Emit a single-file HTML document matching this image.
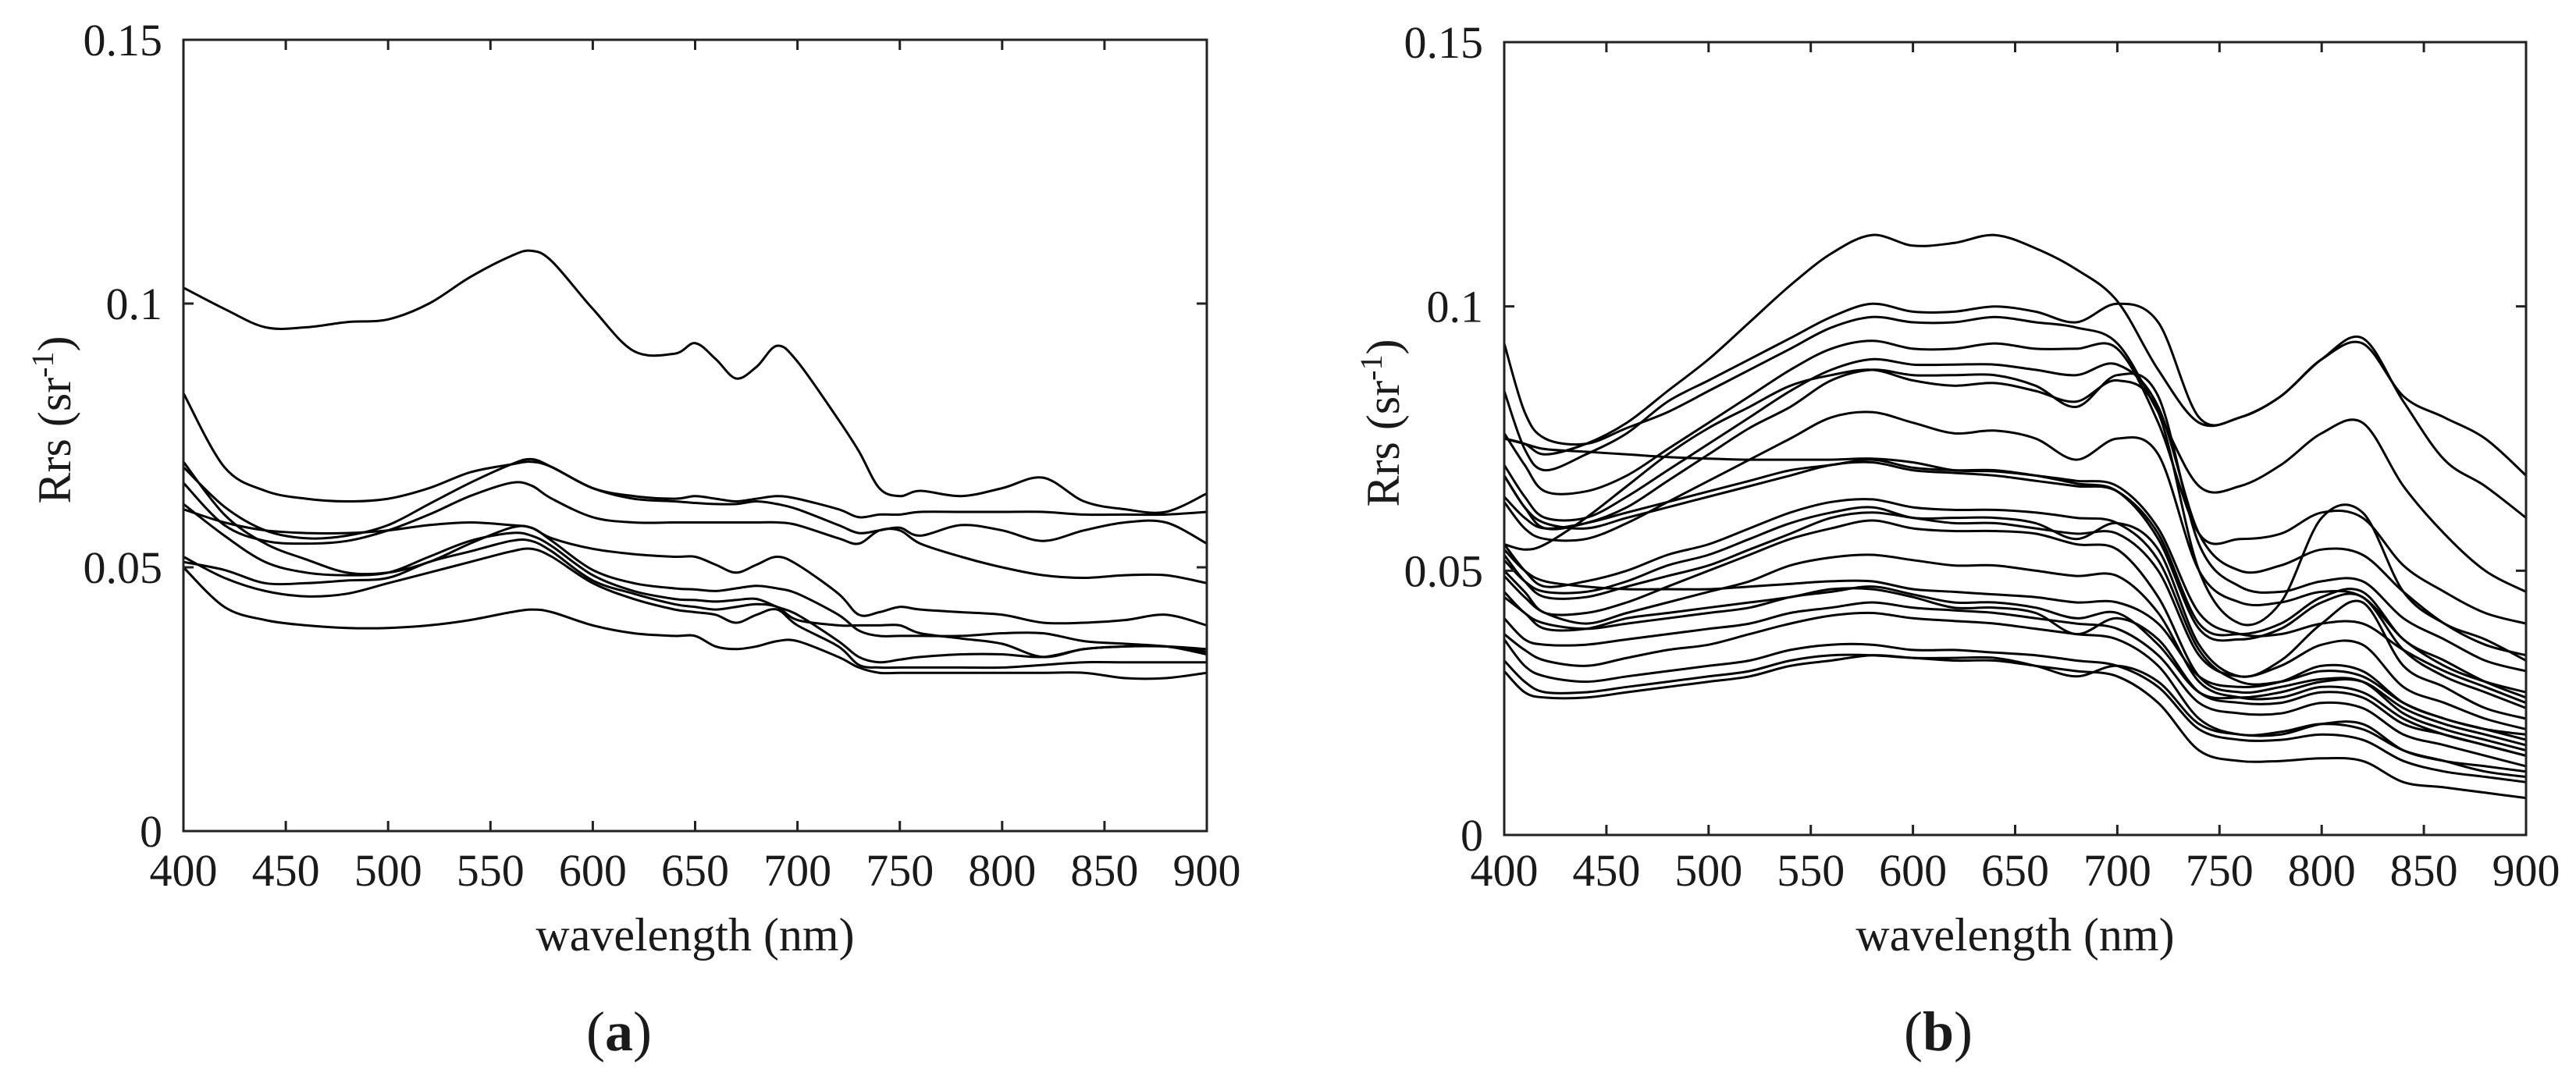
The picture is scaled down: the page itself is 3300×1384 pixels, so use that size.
<!DOCTYPE html>
<html><head><meta charset="utf-8"><title>Rrs spectra</title>
<style>
html,body{margin:0;padding:0;background:#fff;}
svg{display:block;}
text{font-family:"Liberation Serif",serif;fill:#1a1a1a;}
</style></head>
<body>
<svg id="chart" xmlns="http://www.w3.org/2000/svg" width="3300" height="1384" viewBox="0 0 3300 1384"></svg>
<script>
// ---------- data: panel (a) ----------
const wlA = [400,420,440,460,480,500,520,540,560,570,580,600,620,640,650,660,670,680,690,700,720,730,740,750,760,780,800,820,840,860,880,900];
const a1 = [0.103,0.099,0.0955,0.0955,0.0965,0.097,0.1,0.105,0.109,0.110,0.108,0.099,0.091,0.0905,0.0925,0.0895,0.0858,0.088,0.092,0.089,0.078,0.072,0.065,0.0635,0.0645,0.0635,0.065,0.067,0.0625,0.061,0.0605,0.064];
const a2 = [0.083,0.069,0.0645,0.063,0.0625,0.063,0.065,0.068,0.0695,0.070,0.069,0.065,0.0635,0.063,0.0635,0.063,0.0625,0.063,0.0635,0.063,0.061,0.0595,0.060,0.060,0.0605,0.0605,0.0605,0.0605,0.060,0.060,0.060,0.0605];
const a3 = [0.069,0.0615,0.057,0.0555,0.056,0.058,0.062,0.066,0.0695,0.0705,0.069,0.065,0.063,0.0625,0.0622,0.062,0.062,0.0625,0.062,0.061,0.058,0.0565,0.057,0.0575,0.056,0.058,0.057,0.055,0.057,0.0585,0.0585,0.0545];
const a4 = [0.066,0.058,0.055,0.0545,0.055,0.057,0.060,0.0635,0.066,0.0655,0.063,0.0595,0.0585,0.0585,0.0585,0.0585,0.0585,0.0585,0.0585,0.058,0.0555,0.0545,0.057,0.057,0.0545,0.052,0.050,0.0485,0.048,0.0485,0.0485,0.047];
const a5 = [0.061,0.0585,0.057,0.0565,0.0565,0.057,0.058,0.0585,0.058,0.0575,0.0555,0.0535,0.0525,0.052,0.052,0.0505,0.049,0.0505,0.052,0.0505,0.045,0.041,0.0415,0.0425,0.042,0.0415,0.041,0.0395,0.0395,0.040,0.041,0.039];
const a6 = [0.070,0.060,0.0545,0.0515,0.049,0.049,0.051,0.0545,0.0575,0.0575,0.055,0.0495,0.047,0.046,0.0458,0.0455,0.046,0.0465,0.046,0.045,0.041,0.038,0.037,0.037,0.037,0.037,0.0375,0.0375,0.036,0.0355,0.035,0.034];
const a7 = [0.062,0.056,0.051,0.049,0.0485,0.049,0.052,0.055,0.0565,0.056,0.054,0.0485,0.0455,0.044,0.0438,0.0435,0.0438,0.044,0.0425,0.041,0.036,0.033,0.032,0.0325,0.033,0.0335,0.0335,0.033,0.0345,0.035,0.035,0.0335];
const a8 = [0.051,0.0495,0.047,0.047,0.0475,0.048,0.051,0.053,0.055,0.055,0.053,0.0475,0.045,0.043,0.0425,0.042,0.0425,0.043,0.0425,0.040,0.039,0.039,0.039,0.039,0.0375,0.0365,0.0355,0.033,0.0345,0.035,0.035,0.0345];
const a9 = [0.052,0.048,0.0455,0.0445,0.045,0.047,0.049,0.051,0.053,0.0535,0.052,0.047,0.044,0.042,0.0415,0.041,0.0395,0.041,0.042,0.039,0.035,0.0315,0.031,0.031,0.031,0.031,0.031,0.0315,0.032,0.032,0.032,0.032];
const a10 = [0.050,0.0425,0.040,0.039,0.0385,0.0385,0.039,0.040,0.0415,0.042,0.0415,0.039,0.0375,0.037,0.037,0.035,0.0345,0.035,0.036,0.036,0.033,0.031,0.030,0.030,0.030,0.030,0.030,0.030,0.030,0.029,0.029,0.030];
const seriesA = [a1,a2,a3,a4,a5,a6,a7,a8,a9,a10];

// ---------- data: panel (b) ----------
const wlB = [400,410,420,440,460,480,500,520,540,560,580,600,620,640,660,680,700,720,740,760,780,800,820,840,860,880,900];
const b1 = [0.075,0.074,0.072,0.074,0.078,0.084,0.090,0.097,0.104,0.110,0.1135,0.1115,0.112,0.1135,0.111,0.107,0.101,0.088,0.078,0.079,0.083,0.090,0.093,0.083,0.079,0.075,0.068];
const b2 = [0.084,0.073,0.069,0.072,0.076,0.082,0.086,0.090,0.094,0.098,0.1005,0.099,0.099,0.100,0.099,0.097,0.1005,0.097,0.079,0.079,0.083,0.090,0.094,0.082,0.071,0.066,0.060];
const b3 = [0.093,0.080,0.075,0.074,0.077,0.080,0.084,0.088,0.092,0.096,0.098,0.097,0.097,0.098,0.097,0.096,0.093,0.080,0.066,0.066,0.070,0.076,0.078,0.066,0.057,0.050,0.046];
const b4 = [0.076,0.070,0.065,0.065,0.068,0.073,0.078,0.083,0.088,0.092,0.0935,0.092,0.092,0.093,0.092,0.092,0.092,0.078,0.057,0.056,0.057,0.061,0.060,0.051,0.046,0.042,0.040];
const b5 = [0.070,0.064,0.060,0.060,0.064,0.069,0.074,0.079,0.084,0.088,0.090,0.089,0.089,0.089,0.088,0.087,0.089,0.081,0.057,0.050,0.051,0.054,0.053,0.046,0.040,0.036,0.034];
const b6 = [0.068,0.062,0.058,0.059,0.062,0.067,0.072,0.077,0.081,0.086,0.088,0.087,0.087,0.087,0.085,0.081,0.087,0.083,0.055,0.047,0.046,0.048,0.048,0.041,0.037,0.033,0.031];
const b7 = [0.075,0.074,0.073,0.0725,0.072,0.0715,0.0712,0.071,0.071,0.071,0.0712,0.0705,0.069,0.0688,0.068,0.067,0.066,0.058,0.042,0.038,0.038,0.040,0.040,0.035,0.031,0.028,0.025];
const b8 = [0.063,0.058,0.056,0.056,0.059,0.063,0.067,0.071,0.075,0.079,0.080,0.078,0.076,0.0765,0.075,0.071,0.075,0.072,0.050,0.044,0.044,0.046,0.045,0.037,0.032,0.029,0.027];
const b9 = [0.068,0.062,0.059,0.058,0.060,0.062,0.064,0.066,0.068,0.070,0.0705,0.069,0.0685,0.068,0.067,0.066,0.065,0.057,0.040,0.038,0.040,0.045,0.046,0.037,0.033,0.029,0.026];
const b10 = [0.055,0.054,0.055,0.060,0.066,0.072,0.077,0.081,0.085,0.087,0.088,0.086,0.085,0.0855,0.084,0.082,0.086,0.080,0.050,0.040,0.044,0.060,0.061,0.046,0.040,0.037,0.033];
const b11 = [0.055,0.050,0.047,0.048,0.050,0.053,0.055,0.058,0.061,0.063,0.0635,0.062,0.0615,0.0615,0.061,0.060,0.059,0.052,0.035,0.029,0.029,0.031,0.030,0.025,0.022,0.020,0.018];
const b12 = [0.052,0.048,0.046,0.046,0.048,0.051,0.053,0.056,0.059,0.061,0.062,0.060,0.060,0.060,0.059,0.056,0.059,0.054,0.036,0.030,0.033,0.040,0.044,0.032,0.028,0.024,0.022];
const b13 = [0.050,0.046,0.042,0.042,0.044,0.047,0.050,0.053,0.056,0.058,0.0595,0.058,0.0575,0.0575,0.057,0.055,0.054,0.045,0.030,0.027,0.028,0.0295,0.029,0.023,0.020,0.018,0.016];
const b14 = [0.049,0.045,0.042,0.040,0.042,0.044,0.046,0.048,0.051,0.0525,0.053,0.052,0.051,0.051,0.050,0.049,0.049,0.042,0.029,0.026,0.026,0.028,0.027,0.022,0.019,0.017,0.015];
const b15 = [0.054,0.050,0.048,0.047,0.0465,0.0465,0.0465,0.047,0.0475,0.048,0.048,0.0465,0.046,0.0455,0.045,0.044,0.044,0.040,0.030,0.028,0.029,0.032,0.031,0.025,0.022,0.020,0.019];
const b16 = [0.046,0.042,0.040,0.039,0.040,0.041,0.042,0.043,0.045,0.046,0.047,0.0455,0.044,0.044,0.043,0.041,0.042,0.036,0.027,0.026,0.027,0.029,0.029,0.024,0.021,0.019,0.017];
const b17 = [0.045,0.042,0.039,0.039,0.041,0.042,0.043,0.044,0.045,0.0465,0.0465,0.045,0.043,0.043,0.042,0.038,0.041,0.037,0.027,0.025,0.025,0.027,0.026,0.021,0.019,0.017,0.015];
const b18 = [0.041,0.037,0.036,0.036,0.037,0.038,0.039,0.040,0.042,0.043,0.044,0.043,0.0425,0.042,0.041,0.040,0.039,0.034,0.025,0.023,0.023,0.025,0.024,0.019,0.017,0.015,0.013];
const b19 = [0.038,0.035,0.033,0.032,0.0335,0.035,0.036,0.038,0.040,0.0415,0.042,0.041,0.0405,0.040,0.039,0.038,0.037,0.032,0.022,0.019,0.0195,0.021,0.020,0.016,0.014,0.012,0.011];
const b20 = [0.037,0.032,0.030,0.029,0.030,0.031,0.032,0.033,0.035,0.036,0.036,0.035,0.035,0.0345,0.034,0.033,0.032,0.028,0.020,0.018,0.018,0.019,0.018,0.014,0.012,0.011,0.010];
const b21 = [0.033,0.029,0.027,0.027,0.028,0.029,0.030,0.031,0.033,0.034,0.034,0.0335,0.0335,0.0335,0.032,0.030,0.032,0.029,0.021,0.019,0.019,0.021,0.021,0.016,0.014,0.013,0.012];
const b22 = [0.031,0.027,0.026,0.026,0.027,0.028,0.029,0.030,0.032,0.033,0.034,0.0335,0.033,0.033,0.032,0.031,0.030,0.025,0.016,0.014,0.014,0.0145,0.014,0.010,0.009,0.008,0.007];
const b23 = [0.053,0.048,0.045,0.045,0.047,0.049,0.051,0.054,0.057,0.060,0.061,0.060,0.059,0.059,0.058,0.057,0.057,0.050,0.034,0.030,0.032,0.036,0.036,0.028,0.025,0.022,0.020];
const b24 = [0.064,0.060,0.058,0.059,0.061,0.063,0.065,0.067,0.069,0.070,0.071,0.0695,0.069,0.069,0.068,0.0665,0.065,0.056,0.039,0.037,0.039,0.044,0.045,0.035,0.030,0.027,0.024];
const seriesB = [b1,b2,b3,b4,b5,b6,b7,b8,b9,b10,b11,b12,b13,b14,b15,b16,b17,b18,b19,b20,b21,b22,b23,b24];

const xTicks = [400,450,500,550,600,650,700,750,800,850,900];
const yTicks = [0,0.05,0.1,0.15];
const yTickLabels = ["0","0.05","0.1","0.15"];

// ---------- rendering ----------
const NS = "http://www.w3.org/2000/svg";
const svg = document.getElementById("chart");
function mk(tag, attrs, parent){
  const e = document.createElementNS(NS, tag);
  for (const k in attrs) e.setAttribute(k, attrs[k]);
  (parent||svg).appendChild(e);
  return e;
}
function smoothPath(pts){
  let d = "M" + pts[0][0].toFixed(1) + "," + pts[0][1].toFixed(1);
  for (let i=0;i<pts.length-1;i++){
    const p0 = pts[Math.max(0,i-1)], p1 = pts[i], p2 = pts[i+1], p3 = pts[Math.min(pts.length-1,i+2)];
    const c1x = p1[0] + (p2[0]-p0[0])/6, c1y = p1[1] + (p2[1]-p0[1])/6;
    const c2x = p2[0] - (p3[0]-p1[0])/6, c2y = p2[1] - (p3[1]-p1[1])/6;
    d += " C" + c1x.toFixed(1)+","+c1y.toFixed(1)+" "+c2x.toFixed(1)+","+c2y.toFixed(1)+" "+p2[0].toFixed(1)+","+p2[1].toFixed(1);
  }
  return d;
}
function panel(cfg){
  const g = mk("g", {});
  
  
  const L=cfg.left, R=cfg.right, T=cfg.top, B=cfg.bottom;
  const xs = v => L + (v-400)/500*(R-L);
  const ys = v => B - v/0.15*(B-T);
  // series
  const lg = mk("g", {fill:"none", stroke:"#000", "stroke-width":"3", "stroke-linejoin":"round"}, g);
  
  
  cfg.series.forEach((s, i) => {
    const pts = s.map((v, j) => [xs(cfg.wl[j]), ys(v)]);
    const p = mk("path", {d: smoothPath(pts)}, lg);
    
    
  });
  // axes box
  const box = mk("rect", {x:L, y:T, width:R-L, height:B-T, fill:"none", stroke:"#222", "stroke-width":"3"}, g);
  
  
  const tl = 13;
  xTicks.forEach(t => {
    const x = xs(t);
    const tk = mk("path", {d:`M${x},${B}V${B-tl}M${x},${T}V${T+tl}`, stroke:"#222", "stroke-width":"3"}, g);
    
    
    const lb = mk("text", {x:x, y:1135, "font-size":"58", "text-anchor":"middle"}, g);
    lb.textContent = t;
    
    
  });
  yTicks.forEach((t, i) => {
    const y = ys(t);
    const tk = mk("path", {d:`M${L},${y}H${L+tl}M${R},${y}H${R-tl}`, stroke:"#222", "stroke-width":"3"}, g);
    
    
    const lb = mk("text", {x:L-27, y:y+20, "font-size":"58", "text-anchor":"end"}, g);
    lb.textContent = yTickLabels[i];
    
    
  });
  const xt = mk("text", {x:(L+R)/2, y:1218, "font-size":"60", "text-anchor":"middle"}, g);
  xt.textContent = "wavelength (nm)";
  
  
  const yt = mk("text", {x:0, y:0, "font-size":"60", "text-anchor":"middle", transform:`translate(${cfg.ytx},${(T+B)/2 - 20}) rotate(-90)`}, g);
  yt.innerHTML = 'Rrs (sr<tspan dy="-22" font-size="40">-1</tspan><tspan dy="22">)</tspan>';
  
  
  const pl = mk("text", {x:cfg.labelX, y:1346, "font-size":"72", "text-anchor":"middle"}, g);
  pl.innerHTML = '(<tspan font-weight="bold">' + cfg.letter + '</tspan>)';
  
  
}
panel({name:"panel-a", left:235, right:1546, top:51, bottom:1065, wl:wlA, series:seriesA, ytx:90, labelX:793, letter:"a"});
panel({name:"panel-b", left:1927, right:3236, top:54, bottom:1070, wl:wlB, series:seriesB, ytx:1792, labelX:2483, letter:"b"});
</script>
</body></html>
